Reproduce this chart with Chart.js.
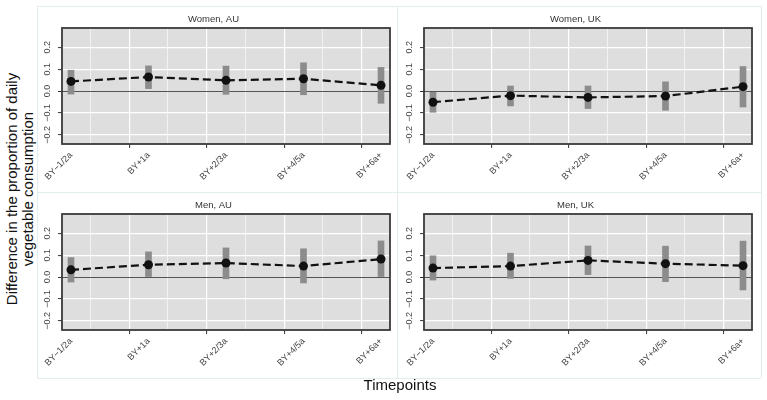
<!DOCTYPE html>
<html>
<head>
<meta charset="utf-8">
<script src="https://cdn.jsdelivr.net/npm/chart.js@4.4.1/dist/chart.umd.min.js"></script>
<style>
  body { margin: 0; background: #fff; font-family: 'Liberation Sans', Arial, sans-serif; }
  #page { position: relative; width: 767px; height: 400px; overflow: hidden; }
  .box { position: absolute; width: 358px; height: 186px; }
  .line { position: absolute; background: #e2eded; }
  #ytitle { position: absolute; left: 20px; top: 189px; transform: translate(-50%, -50%) rotate(-90deg);
            white-space: nowrap; text-align: center; font-size: 15px; line-height: 16px; color: #111; }
  #xtitle { position: absolute; left: 400px; top: 384px; transform: translate(-50%, -50%);
            font-size: 15px; color: #111; white-space: nowrap; }
</style>
</head>
<body>
<div id="page">
  <div class="line" style="left:37px;top:6px;width:724px;height:1px"></div>
  <div class="line" style="left:37px;top:192px;width:724px;height:1px"></div>
  <div class="line" style="left:37px;top:378px;width:724px;height:1px"></div>
  <div class="line" style="left:37px;top:6px;width:1px;height:372px"></div>
  <div class="line" style="left:397px;top:6px;width:1px;height:372px"></div>
  <div class="line" style="left:761px;top:6px;width:1px;height:372px"></div>

  <div class="box" style="left:37px;top:6px"><canvas id="c1"></canvas></div>
  <div class="box" style="left:399px;top:6px"><canvas id="c2"></canvas></div>
  <div class="box" style="left:37px;top:192px"><canvas id="c3"></canvas></div>
  <div class="box" style="left:399px;top:192px"><canvas id="c4"></canvas></div>

  <div id="ytitle">Difference in the proportion of daily<br>vegetable consumption</div>
  <div id="xtitle">Timepoints</div>
</div>

<script>
const timepoints = ['BY\u22121/2a', 'BY+1a', 'BY+2/3a', 'BY+4/5a', 'BY+6a+'];

// point estimates and interval ends
const womenAU = [0.044, 0.064, 0.049, 0.056, 0.026];
const womenAULow = [-0.014, 0.011, -0.015, -0.017, -0.056];
const womenAUHigh = [0.095, 0.115, 0.114, 0.129, 0.108];

const womenUK = [-0.051, -0.021, -0.029, -0.023, 0.020];
const womenUKLow = [-0.097, -0.068, -0.080, -0.088, -0.073];
const womenUKHigh = [-0.006, 0.023, 0.023, 0.042, 0.112];

const menAU = [0.033, 0.056, 0.064, 0.050, 0.082];
const menAULow = [-0.023, 0.000, -0.008, -0.027, 0.000];
const menAUHigh = [0.089, 0.115, 0.133, 0.129, 0.165];

const menUK = [0.041, 0.050, 0.076, 0.061, 0.052];
const menUKLow = [-0.014, -0.006, 0.011, -0.021, -0.059];
const menUKHigh = [0.097, 0.109, 0.142, 0.141, 0.164];

const yTicks = [-0.2, -0.15, -0.1, -0.05, 0, 0.05, 0.1, 0.15, 0.2, 0.25];
const xTicks = [0, 0.5, 1, 1.5, 2, 2.5, 3, 3.5, 4];

Chart.defaults.font.family = "'Liberation Sans', Arial, sans-serif";
Chart.defaults.animation = false;

function isMajorY(v) {
    return Math.abs(v * 10 - Math.round(v * 10)) < 1e-6;
}
function tickVal(c) {
    return c && c.tick ? c.tick.value : NaN;
}

const panelBg = {
    id: 'panelBg',
    beforeDraw(chart) {
        const a = chart.chartArea, c = chart.ctx;
        c.save();
        c.fillStyle = '#dedede';
        c.fillRect(a.left, a.top, a.right - a.left, a.bottom - a.top);
        c.restore();
    },
    afterDraw(chart) {
        const a = chart.chartArea, c = chart.ctx;
        c.save();
        c.strokeStyle = '#3a3a3a';
        c.lineWidth = 1.8;
        c.strokeRect(a.left, a.top, a.right - a.left, a.bottom - a.top);
        c.restore();
    }
};

function makePanel(id, title, est, low, high) {
    new Chart(document.getElementById(id), {
        type: 'bar',
        data: {
            datasets: [
                {
                    type: 'line',
                    data: est.map((v, i) => ({ x: i, y: v })),
                    borderColor: '#111',
                    borderWidth: 2.2,
                    borderDash: [8, 4],
                    pointRadius: 4.5,
                    pointBackgroundColor: '#111',
                    pointBorderWidth: 0,
                    order: 0
                },
                {
                    type: 'bar',
                    data: low.map((v, i) => ({ x: i, y: [v, high[i]] })),
                    backgroundColor: '#8c8c8c',
                    barThickness: 6,
                    order: 1
                }
            ]
        },
        options: {
            responsive: true,
            maintainAspectRatio: false,
            layout: { padding: { left: 0, right: 5, top: 0, bottom: 0 } },
            plugins: {
                legend: { display: false },
                tooltip: { enabled: false },
                title: {
                    display: true,
                    text: title,
                    color: '#333',
                    font: { size: 9.5, weight: 'normal' },
                    padding: { top: 8, bottom: 2.6 }
                }
            },
            scales: {
                x: {
                    type: 'linear',
                    min: -0.116,
                    max: 4.116,
                    offset: false,
                    afterBuildTicks: s => { s.ticks = xTicks.map(v => ({ value: v })); },
                    afterFit: s => { s.height = 48; },
                    ticks: {
                        autoSkip: false,
                        minRotation: 45,
                        maxRotation: 45,
                        padding: 2,
                        color: '#444',
                        font: { size: 9 },
                        callback: v => Number.isInteger(v) ? timepoints[v] : ''
                    },
                    grid: {
                        color: '#fff',
                        lineWidth: c => Number.isInteger(tickVal(c)) ? 1.2 : 0.6,
                        tickColor: c => Number.isInteger(tickVal(c)) ? '#333' : 'rgba(0,0,0,0)',
                        tickLength: 4,
                        tickWidth: 1
                    },
                    border: { display: false }
                },
                y: {
                    min: -0.242,
                    max: 0.288,
                    afterBuildTicks: s => { s.ticks = yTicks.map(v => ({ value: v })); },
                    afterFit: s => { s.width = 25; },
                    ticks: {
                        minRotation: 90,
                        maxRotation: 90,
                        crossAlign: 'center',
                        padding: 2,
                        color: '#444',
                        font: { size: 9 },
                        callback: v => {
                            if (!isMajorY(v)) return '';
                            const s = Math.abs(v).toFixed(1);
                            return v < -1e-9 ? '\u2212' + s : s;
                        }
                    },
                    grid: {
                        color: c => Math.abs(tickVal(c)) < 1e-9 ? '#555' : '#fff',
                        lineWidth: c => Math.abs(tickVal(c)) < 1e-9 ? 1 : (isMajorY(tickVal(c)) ? 1.2 : 0.6),
                        tickColor: c => isMajorY(tickVal(c)) ? '#333' : 'rgba(0,0,0,0)',
                        tickLength: 4,
                        tickWidth: 1
                    },
                    border: { display: false }
                }
            }
        },
        plugins: [panelBg]
    });
}

makePanel('c1', 'Women, AU', womenAU, womenAULow, womenAUHigh);
makePanel('c2', 'Women, UK', womenUK, womenUKLow, womenUKHigh);
makePanel('c3', 'Men, AU', menAU, menAULow, menAUHigh);
makePanel('c4', 'Men, UK', menUK, menUKLow, menUKHigh);
</script>
</body>
</html>
